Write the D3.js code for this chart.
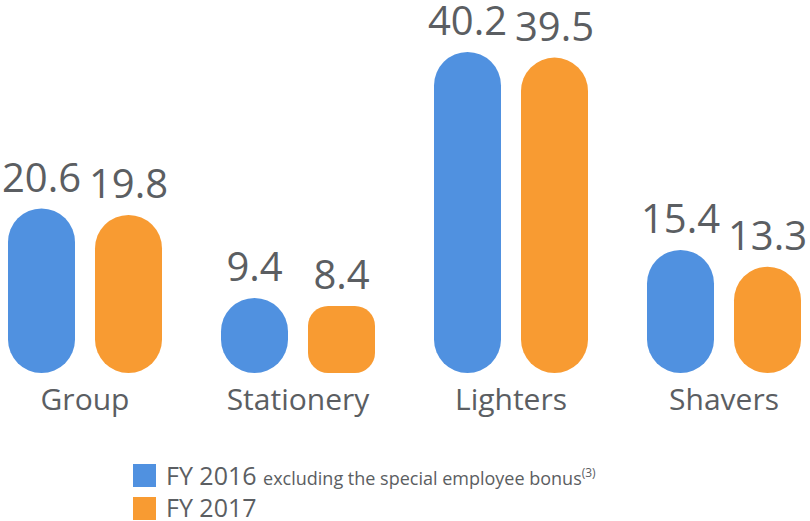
<!DOCTYPE html>
<html><head><meta charset="utf-8">
<script src="https://cdn.jsdelivr.net/npm/d3@7"></script>
<style>body{margin:0;background:#fff}svg{display:block}text{font-family:"Open Sans",sans-serif;fill:#5b5e62}</style>
</head><body>
<svg id="c" width="810" height="521"></svg>
<script>
const categories = ["Group", "Stationery", "Lighters", "Shavers"];
const seriesNames = ["FY 2016", "FY 2017"];
const fy2016 = [20.6, 9.4, 40.2, 15.4];
const fy2017 = [19.8, 8.4, 39.5, 13.3];
const colors = ["#5091e0", "#f89b32"];

const svg = d3.select("#c");
const baseY = 373, topY = 52;
const y = d3.scaleLinear().domain([0, 40.2]).range([baseY, topY]);
const x0 = d3.scaleBand().domain(categories).range([8, 801]).paddingInner(59/213).paddingOuter(0);
const x1 = d3.scaleBand().domain(seriesNames).range([0, x0.bandwidth()]).paddingInner(20/87).paddingOuter(0);

const data = [];
categories.forEach((c, i) => {
  [fy2016[i], fy2017[i]].forEach((v, j) => data.push({cat: c, series: seriesNames[j], v, color: colors[j]}));
});

const g = svg.append("g");
data.forEach(d => {
  const w = x1.bandwidth();
  const xl = x0(d.cat) + x1(d.series);
  const yt = y(d.v);
  const h = baseY - yt;
  const r = h >= w + 2 ? w / 2 : w * 0.3;
  g.append("rect").attr("x", xl).attr("y", yt).attr("width", w).attr("height", h)
    .attr("rx", r).attr("ry", r).attr("fill", d.color);
  g.append("text").attr("x", xl + w / 2).attr("y", yt - 17).attr("text-anchor", "middle")
    .style("font-size", "40px").text(d.v.toFixed(1));
});

categories.forEach(c => {
  svg.append("text").attr("x", x0(c) + x0.bandwidth() / 2).attr("y", 410).attr("text-anchor", "middle")
    .style("font-size", "30px").text(c);
});

// legend
const leg = svg.append("g");
leg.append("rect").attr("x", 133).attr("y", 464).attr("width", 23).attr("height", 23).attr("fill", colors[0]);
leg.append("rect").attr("x", 133).attr("y", 497).attr("width", 23).attr("height", 23).attr("fill", colors[1]);
const t1 = leg.append("text").attr("x", 166).attr("y", 485);
t1.append("tspan").style("font-size", "25px").text(seriesNames[0] + " ");
t1.append("tspan").style("font-size", "18px").text("excluding the special employee bonus");
t1.append("tspan").style("font-size", "12px").attr("dy", -8).text("(3)");
leg.append("text").attr("x", 166).attr("y", 517).style("font-size", "25px").text(seriesNames[1]);
</script>
</body></html>
